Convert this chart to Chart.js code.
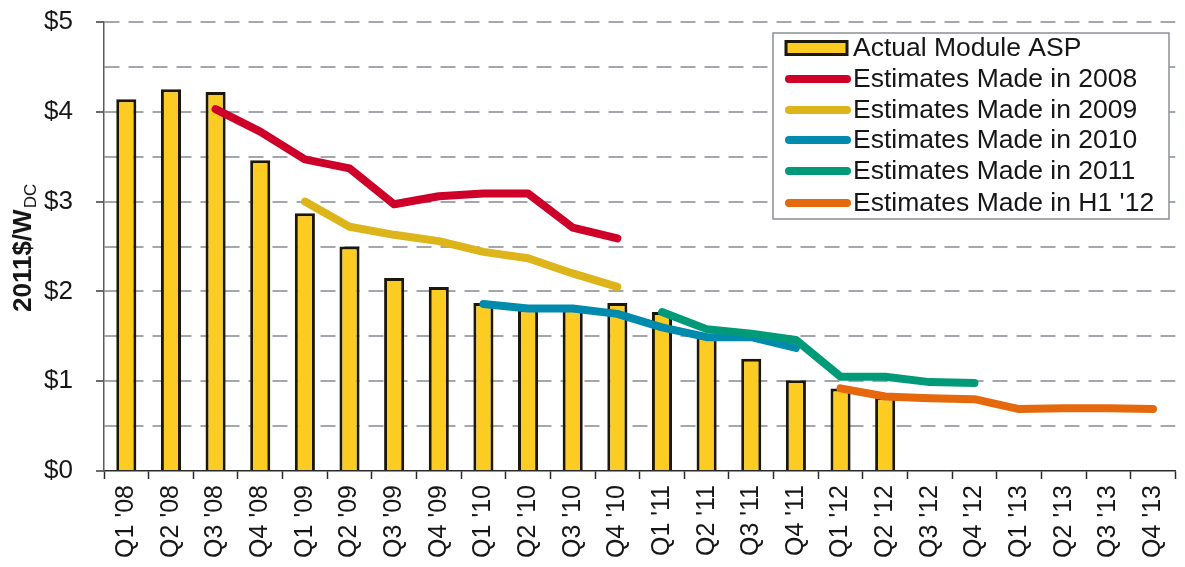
<!DOCTYPE html>
<html>
<head>
<meta charset="utf-8">
<script src="https://cdn.jsdelivr.net/npm/chart.js@4"></script>
<style>
  html, body { margin: 0; padding: 0; background: #fff; overflow: hidden; }
  #wrap { width: 1189px; height: 567px; }
</style>
</head>
<body>
<div id="wrap"><canvas id="c"></canvas></div>
<script>
// Quarterly module prices, 2011$/W_DC
const quarters = ["Q1 '08","Q2 '08","Q3 '08","Q4 '08","Q1 '09","Q2 '09","Q3 '09","Q4 '09",
                  "Q1 '10","Q2 '10","Q3 '10","Q4 '10","Q1 '11","Q2 '11","Q3 '11","Q4 '11",
                  "Q1 '12","Q2 '12","Q3 '12","Q4 '12","Q1 '13","Q2 '13","Q3 '13","Q4 '13"];

const actualASP = [4.14, 4.25, 4.22, 3.46, 2.87, 2.50, 2.15, 2.05, 1.87, 1.80, 1.80, 1.87,
                   1.77, 1.52, 1.25, 1.01, 0.92, 0.82, null, null, null, null, null, null];

const est2008 = [null, null, 4.03, 3.78, 3.47, 3.37, 2.97, 3.06, 3.09, 3.09, 2.71, 2.59,
                 null, null, null, null, null, null, null, null, null, null, null, null];

const est2009 = [null, null, null, null, 3.00, 2.72, 2.63, 2.56, 2.44, 2.37, 2.20, 2.05,
                 null, null, null, null, null, null, null, null, null, null, null, null];

const est2010 = [null, null, null, null, null, null, null, null, 1.86, 1.81, 1.81, 1.75,
                 1.60, 1.49, 1.49, 1.37, null, null, null, null, null, null, null, null];

const est2011 = [null, null, null, null, null, null, null, null, null, null, null, null,
                 1.77, 1.58, 1.53, 1.46, 1.05, 1.05, 0.99, 0.98, null, null, null, null];

const estH112 = [null, null, null, null, null, null, null, null, null, null, null, null,
                 null, null, null, null, 0.92, 0.83, 0.81, 0.80, 0.69, 0.70, 0.70, 0.69];

const yTicks = [0, 1, 2, 3, 4, 5];

const FONT = "'Liberation Sans', Arial, sans-serif";
const INK = '#161616';

function lineSet(label, data, color, order) {
  return {
    type: 'line', label, data, order,
    borderColor: color, backgroundColor: color,
    borderWidth: 8, borderCapStyle: 'round', borderJoinStyle: 'round',
    pointRadius: 0, pointHoverRadius: 0, tension: 0, spanGaps: false
  };
}

// Legend box and rotated axis title with subscript
const decorations = {
  id: 'decorations',
  afterDraw(chart) {
    const ctx = chart.ctx;
    ctx.save();

    // y-axis title: 2011$/W with DC subscript
    ctx.translate(31, 312);
    ctx.rotate(-Math.PI / 2);
    ctx.fillStyle = INK;
    ctx.textBaseline = 'alphabetic';
    ctx.textAlign = 'left';
    ctx.font = "bold 26px " + FONT;
    const main = '2011$/W';
    ctx.fillText(main, 0, 0);
    const w = ctx.measureText(main).width;
    ctx.font = "17px " + FONT;
    ctx.fillText('DC', w + 1, 5);
    ctx.restore();

    // legend
    ctx.save();
    const bx = 773, by = 33, bw = 396, bh = 186;
    ctx.fillStyle = '#ffffff';
    ctx.fillRect(bx, by, bw, bh);
    ctx.strokeStyle = '#8b9097';
    ctx.lineWidth = 1.5;
    ctx.strokeRect(bx, by, bw, bh);

    const rows = [48, 79, 110, 140, 171, 203];
    ctx.font = "26.5px " + FONT;
    ctx.textBaseline = 'middle';
    ctx.textAlign = 'left';
    chart.data.datasets.forEach((ds, i) => {
      const y = rows[i];
      if (ds.type === 'bar') {
        ctx.fillStyle = ds.backgroundColor;
        ctx.fillRect(786, y - 6.5, 61, 13);
        ctx.strokeStyle = ds.borderColor;
        ctx.lineWidth = 3;
        ctx.strokeRect(786, y - 6.5, 61, 13);
      } else {
        ctx.strokeStyle = ds.borderColor;
        ctx.lineWidth = 8;
        ctx.lineCap = 'round';
        ctx.beginPath();
        ctx.moveTo(789, y);
        ctx.lineTo(847, y);
        ctx.stroke();
      }
      ctx.fillStyle = INK;
      ctx.fillText(ds.label, 853, y + 1);
    });
    ctx.restore();
  }
};

new Chart(document.getElementById('c'), {
  data: {
    labels: quarters,
    datasets: [
      {
        type: 'bar', label: 'Actual Module ASP', data: actualASP, order: 10,
        backgroundColor: '#FCCC22', borderColor: '#1c1707', borderWidth: 3,
        barPercentage: 0.45, categoryPercentage: 1.0
      },
      lineSet('Estimates Made in 2008', est2008, '#CE0029', 5),
      lineSet('Estimates Made in 2009', est2009, '#DDB51A', 4),
      lineSet('Estimates Made in 2010', est2010, '#008BAE', 3),
      lineSet('Estimates Made in 2011', est2011, '#009A79', 2),
      lineSet("Estimates Made in H1 '12", estH112, '#E5690C', 1)
    ]
  },
  options: {
    responsive: true,
    maintainAspectRatio: false,
    devicePixelRatio: 1,
    animation: false,
    events: [],
    layout: { padding: { top: 22, left: 0, right: 0, bottom: 0 } },
    plugins: { legend: { display: false }, tooltip: { enabled: false }, title: { display: false } },
    scales: {
      x: {
        type: 'category',
        offset: true,
        grid: {
          offset: true, drawOnChartArea: false, drawTicks: true,
          tickLength: 8, tickColor: '#2a2a2a', tickWidth: 1.5
        },
        border: { display: true, color: '#2a2a2a', width: 1.5 },
        ticks: {
          autoSkip: false, maxRotation: 90, minRotation: 90, padding: 6,
          color: INK, font: { family: FONT, size: 25 }
        },
        afterFit(scale) { scale.height = 96; }
      },
      y: {
        min: 0, max: 5,
        afterBuildTicks(scale) {
          const t = [];
          for (let v = 0; v <= 5.0001; v += 0.5) t.push({ value: Math.round(v * 2) / 2 });
          scale.ticks = t;
        },
        grid: {
          color: (c) => (c.tick && c.tick.value === 0) ? 'rgba(0,0,0,0)' : '#a3a7ad',
          lineWidth: 2,
          drawTicks: true,
          tickLength: 8,
          tickWidth: 1.5,
          tickColor: (c) => (c.tick && Number.isInteger(c.tick.value)) ? '#3a3a3a' : 'rgba(0,0,0,0)'
        },
        border: { display: true, color: '#5a5a5a', width: 1.5, dash: [15, 9] },
        ticks: {
          padding: 23,
          color: INK,
          font: { family: FONT, size: 26 },
          callback: (v) => yTicks.includes(v) ? '$' + v : ''
        },
        afterFit(scale) {
          scale.width = 104;
          scale.paddingTop = 0;
          scale.paddingBottom = 0;
        }
      }
    }
  },
  plugins: [decorations]
});
</script>
</body>
</html>
